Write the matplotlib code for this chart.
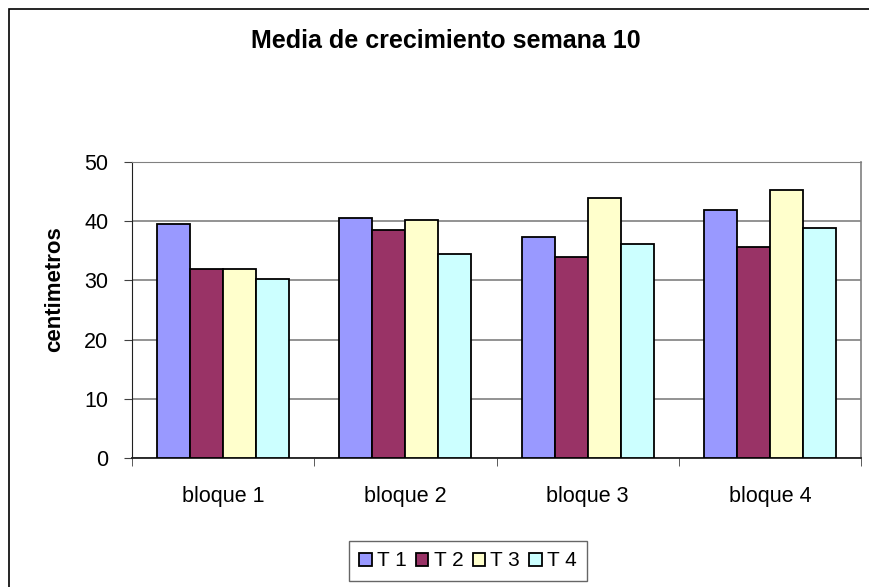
import numpy as np
import matplotlib.pyplot as plt
from matplotlib.patches import Rectangle

plt.rcParams['font.family'] = ['Liberation Sans', 'DejaVu Sans']

bloques = ["bloque 1", "bloque 2", "bloque 3", "bloque 4"]
series = ["T 1", "T 2", "T 3", "T 4"]
t1 = [39.5, 40.5, 37.4, 41.9]
t2 = [32.0, 38.5, 34.0, 35.7]
t3 = [32.0, 40.2, 43.9, 45.3]
t4 = [30.3, 34.4, 36.1, 38.8]
valores = [t1, t2, t3, t4]
colores = ["#9999FF", "#993366", "#FFFFCC", "#CCFFFF"]

fig = plt.figure(figsize=(8.69, 5.87), dpi=100)
ax = fig.add_axes([132 / 869, 1 - 458 / 587, (861 - 132) / 869, (458 - 162) / 587])

# borde exterior del gráfico
fig.patches.append(Rectangle((9 / 869, -0.01), 1.0, 1 - 9 / 587 + 0.01,
                             transform=fig.transFigure, fill=False,
                             edgecolor="black", lw=1.2))

x = np.arange(len(bloques))
ancho = 0.181
for j, (serie, vals, col) in enumerate(zip(series, valores, colores)):
    ax.bar(x + (j - 1.5) * ancho, vals, width=ancho, color=col,
           edgecolor="black", linewidth=1.3, label=serie, zorder=3)

ax.set_xlim(-0.5, 3.5)
ax.set_ylim(0, 50)
ax.set_yticks(range(0, 51, 10))
ax.yaxis.grid(True, color="#808080", lw=1.2, zorder=0)
ax.set_axisbelow(True)

ax.set_xticks(x)
ax.set_xticklabels(bloques, fontsize=15.5)
ax.set_xticks(np.arange(-0.5, 3.6, 1), minor=True)
ax.tick_params(axis="x", which="major", length=0, pad=20)
ax.tick_params(axis="x", which="minor", length=6, direction="out", color="#404040")
ax.tick_params(axis="y", length=6, direction="out", labelsize=15.5, pad=11, color="#404040")

ax.spines["top"].set_color("#808080")
ax.spines["right"].set_color("#808080")
ax.spines["right"].set_linewidth(1.2)
ax.spines["left"].set_color("#202020")
ax.spines["bottom"].set_color("#202020")
ax.spines["bottom"].set_linewidth(1.3)

ax.set_ylabel("centimetros", fontsize=16, fontweight="bold")
ax.yaxis.set_label_coords(-0.092, 0.57)
fig.text(446 / 869, 1 - 41 / 587, "Media de crecimiento semana 10",
         ha="center", va="center", fontsize=18, fontweight="bold")

leg = fig.legend(loc="center", bbox_to_anchor=(468 / 869, 1 - 561 / 587),
                 ncol=4, fontsize=15, frameon=True, fancybox=False,
                 handlelength=0.6, handleheight=0.6, handletextpad=0.25,
                 columnspacing=0.45, borderpad=0.5, borderaxespad=0)
leg.get_frame().set_edgecolor("#404040")
leg.get_frame().set_linewidth(1.0)

fig.savefig("out.png", dpi=100, facecolor="white")
